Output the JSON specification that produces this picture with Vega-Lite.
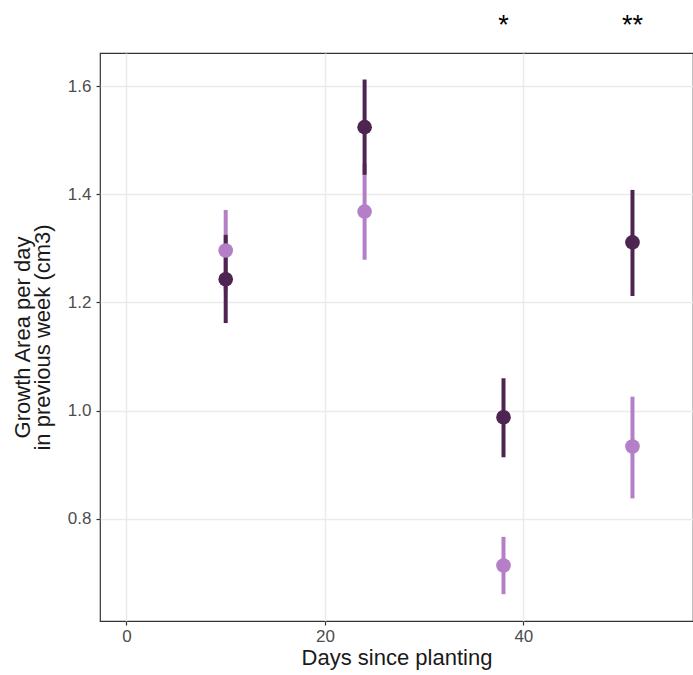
{
  "$schema": "https://vega.github.io/schema/vega-lite/v6.json",
  "width": 593,
  "height": 568,
  "autosize": {"type": "none"},
  "padding": {"left": 100, "top": 53, "right": 0, "bottom": 54},
  "background": "white",
  "config": {
    "view": {"stroke": "#333333", "strokeWidth": 1.2},
    "font": "Liberation Sans",
    "axis": {
      "domain": false,
      "grid": true,
      "gridColor": "#ebebeb",
      "gridWidth": 1.5,
      "tickColor": "#333333",
      "tickSize": 4,
      "tickWidth": 1.2,
      "labelColor": "#4d4d4d",
      "labelFontSize": 17,
      "labelFont": "Liberation Sans",
      "titleFont": "Liberation Sans",
      "titleFontWeight": "normal",
      "titleColor": "#1a1a1a",
      "titleFontSize": 22
    }
  },
  "datasets": {
    "pts": [
      {"day": 10, "group": "B", "mean": 1.243, "lo": 1.162, "hi": 1.325},
      {"day": 10, "group": "A", "mean": 1.296, "lo": 1.221, "hi": 1.371},
      {"day": 24, "group": "B", "mean": 1.524, "lo": 1.436, "hi": 1.612},
      {"day": 24, "group": "A", "mean": 1.368, "lo": 1.279, "hi": 1.457},
      {"day": 38, "group": "B", "mean": 0.988, "lo": 0.914, "hi": 1.06},
      {"day": 38, "group": "A", "mean": 0.714, "lo": 0.661, "hi": 0.767},
      {"day": 51, "group": "B", "mean": 1.311, "lo": 1.212, "hi": 1.408},
      {"day": 51, "group": "A", "mean": 0.934, "lo": 0.838, "hi": 1.026}
    ],
    "sig": [
      {"day": 38, "y": 1.735, "label": "*"},
      {"day": 51, "y": 1.735, "label": "**"}
    ]
  },
  "layer": [
    {
      "data": {"name": "pts"},
      "mark": {"type": "rule", "strokeWidth": 4},
      "encoding": {
        "x": {
          "field": "day", "type": "quantitative",
          "scale": {"domain": [-2.67, 57.1], "nice": false, "zero": false},
          "axis": {"values": [0, 20, 40], "title": "Days since planting", "titlePadding": 3, "labelPadding": 3}
        },
        "y": {
          "field": "lo", "type": "quantitative",
          "scale": {"domain": [0.6115, 1.661], "nice": false, "zero": false},
          "axis": {"values": [0.8, 1.0, 1.2, 1.4, 1.6], "format": ".1f", "title": ["Growth Area per day", "in previous week (cm3)"], "titlePadding": 13, "labelPadding": 5, "titleLineHeight": 20}
        },
        "y2": {"field": "hi"},
        "color": {
          "field": "group", "type": "nominal",
          "scale": {"domain": ["A", "B"], "range": ["#b57fc8", "#4e2451"]},
          "legend": null
        },
        "order": {"field": "group", "sort": "ascending"}
      }
    },
    {
      "data": {"name": "pts"},
      "mark": {"type": "point", "filled": true, "opacity": 1, "size": 215, "shape": "circle"},
      "encoding": {
        "x": {"field": "day", "type": "quantitative"},
        "y": {"field": "mean", "type": "quantitative"},
        "color": {"field": "group", "type": "nominal", "legend": null},
        "order": {"field": "group", "sort": "ascending"}
      }
    },
    {
      "data": {"name": "sig"},
      "mark": {"type": "text", "fontSize": 27, "baseline": "top", "align": "center", "color": "black", "font": "Liberation Sans"},
      "encoding": {
        "x": {"field": "day", "type": "quantitative"},
        "y": {"field": "y", "type": "quantitative"},
        "text": {"field": "label"}
      }
    }
  ]
}
